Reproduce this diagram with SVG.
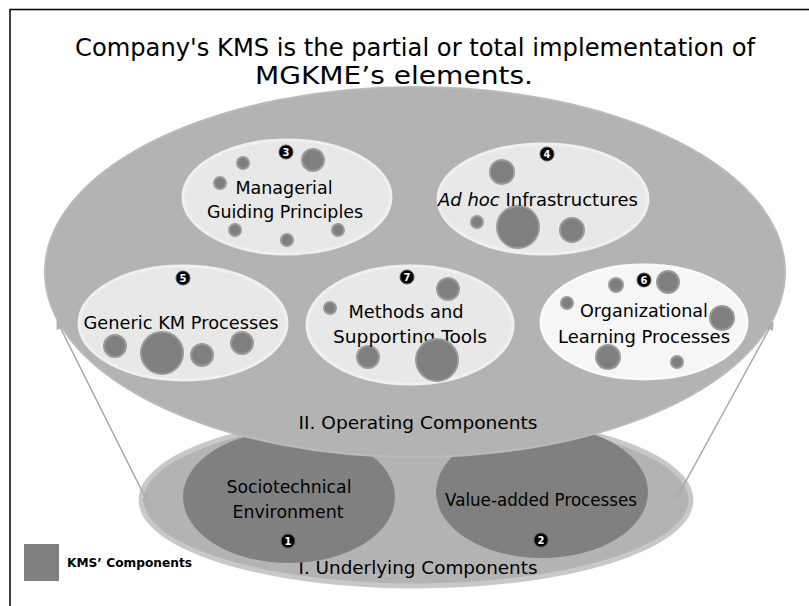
<svg xmlns="http://www.w3.org/2000/svg" width="809" height="606" viewBox="0 0 809 606">
<style>
  text { font-family: "DejaVu Sans", Verdana, sans-serif; fill: #000; }
  .title { font-size: 24.5px; }
  .lbl { font-size: 17.5px; }
  .big { font-size: 18.5px; }
  .leg { font-size: 12.5px; font-weight: bold; }
  .inner { fill: #e8e8e8; stroke: #f0f0f0; stroke-width: 3; }
  .dot { fill: #7f7f7f; stroke: #9a9a9a; stroke-width: 2; }
  .badge { fill: #000; stroke: #555; stroke-width: 1; }
  .bnum { font-size: 10px; font-weight: bold; fill: #fff; text-anchor: middle; }
  .conn { stroke: #a8a8a8; stroke-width: 1.5; fill: none; marker-start: url(#ah); marker-end: url(#ah); }
</style>
<defs>
  <marker id="ah" viewBox="0 0 10 10" refX="9" refY="5" markerWidth="9" markerHeight="9" markerUnits="userSpaceOnUse" orient="auto-start-reverse">
    <path d="M0,0 L10,5 L0,10 z" fill="#b0b0b0"/>
  </marker>
</defs>
<rect width="809" height="606" fill="#fff"/>
<g id="frame">
  <path d="M10,606 L10,9.5 L809,9.5" fill="none" stroke="#000" stroke-width="1.5"/>
</g>
<g id="title">
  <text class="title" x="415" y="56" text-anchor="middle" textLength="680" lengthAdjust="spacingAndGlyphs">Company's KMS is the partial or total implementation of</text>
  <text class="title" x="394" y="84" text-anchor="middle" textLength="278" lengthAdjust="spacingAndGlyphs">MGKME’s elements.</text>
</g>
<g id="underlying">
  <ellipse cx="416" cy="500" rx="275" ry="86" fill="#b3b3b3" stroke="#c8c8c8" stroke-width="5"/>
  <text class="big" x="418" y="574" text-anchor="middle" textLength="239" lengthAdjust="spacingAndGlyphs">I. Underlying Components</text>
</g>
<g id="node1">
  <ellipse cx="289" cy="497" rx="106" ry="66" fill="#808080"/>
  <text class="lbl" x="289" y="493" text-anchor="middle" textLength="125" lengthAdjust="spacingAndGlyphs">Sociotechnical</text>
  <text class="lbl" x="288" y="518" text-anchor="middle" textLength="111" lengthAdjust="spacingAndGlyphs">Environment</text>
  <circle class="badge" cx="288" cy="541" r="7"/>
  <text class="bnum" x="288" y="545">1</text>
</g>
<g id="node2">
  <ellipse cx="542" cy="492" rx="106" ry="66" fill="#808080"/>
  <text class="lbl" x="541" y="506" text-anchor="middle" textLength="192" lengthAdjust="spacingAndGlyphs">Value-added Processes</text>
  <circle class="badge" cx="541" cy="540" r="7"/>
  <text class="bnum" x="541" y="544">2</text>
</g>
<g id="operating">
  <ellipse cx="415" cy="272" rx="370" ry="185" fill="#b3b3b3" stroke="#bababa" stroke-width="2"/>
  <text class="big" x="418" y="429" text-anchor="middle" textLength="239" lengthAdjust="spacingAndGlyphs">II. Operating Components</text>
</g>
<g id="node3">
  <ellipse class="inner" cx="287" cy="197" rx="104" ry="57"/>
  <circle class="dot" cx="243" cy="163" r="6"/>
  <circle class="dot" cx="313" cy="160" r="11"/>
  <circle class="dot" cx="220" cy="183" r="6"/>
  <circle class="dot" cx="235" cy="230" r="6"/>
  <circle class="dot" cx="287" cy="240" r="6"/>
  <circle class="dot" cx="338" cy="230" r="6"/>
  <text class="lbl" x="284" y="194" text-anchor="middle" textLength="97" lengthAdjust="spacingAndGlyphs">Managerial</text>
  <text class="lbl" x="285" y="218" text-anchor="middle" textLength="156" lengthAdjust="spacingAndGlyphs">Guiding Principles</text>
  <circle class="badge" cx="286" cy="152" r="7"/>
  <text class="bnum" x="286" y="156">3</text>
</g>
<g id="node4">
  <ellipse class="inner" cx="543" cy="199" rx="105" ry="55"/>
  <circle class="dot" cx="502" cy="172" r="12"/>
  <circle class="dot" cx="477" cy="222" r="6"/>
  <circle class="dot" cx="518" cy="227" r="21"/>
  <circle class="dot" cx="572" cy="230" r="12"/>
  <text class="lbl" x="438" y="206" textLength="200" lengthAdjust="spacingAndGlyphs"><tspan font-style="italic">Ad hoc</tspan> Infrastructures</text>
  <circle class="badge" cx="547" cy="154" r="7"/>
  <text class="bnum" x="547" y="158">4</text>
</g>
<g id="node5">
  <ellipse class="inner" cx="183" cy="323" rx="104" ry="57"/>
  <circle class="dot" cx="115" cy="346" r="11"/>
  <circle class="dot" cx="162" cy="353" r="21"/>
  <circle class="dot" cx="202" cy="355" r="11"/>
  <circle class="dot" cx="242" cy="343" r="11"/>
  <text class="lbl" x="181" y="329" text-anchor="middle" textLength="195" lengthAdjust="spacingAndGlyphs">Generic KM Processes</text>
  <circle class="badge" cx="183" cy="278" r="7"/>
  <text class="bnum" x="183" y="282">5</text>
</g>
<g id="node7">
  <ellipse class="inner" cx="410" cy="325" rx="103" ry="59"/>
  <circle class="dot" cx="448" cy="289" r="11"/>
  <circle class="dot" cx="330" cy="308" r="6"/>
  <circle class="dot" cx="368" cy="357" r="11"/>
  <text class="lbl" x="406" y="318" text-anchor="middle" textLength="115" lengthAdjust="spacingAndGlyphs">Methods and</text>
  <text class="lbl" x="410" y="343" text-anchor="middle" textLength="154" lengthAdjust="spacingAndGlyphs">Supporting Tools</text>
  <circle class="dot" cx="437" cy="360" r="21"/>
  <circle class="badge" cx="407" cy="277" r="7"/>
  <text class="bnum" x="407" y="281">7</text>
</g>
<g id="node6">
  <ellipse cx="644" cy="322" rx="103" ry="57" fill="#f6f6f6" stroke="#fafafa" stroke-width="3"/>
  <circle class="dot" cx="616" cy="285" r="7"/>
  <circle class="dot" cx="668" cy="282" r="11"/>
  <circle class="dot" cx="567" cy="303" r="6"/>
  <circle class="dot" cx="722" cy="318" r="12"/>
  <circle class="dot" cx="608" cy="357" r="12"/>
  <circle class="dot" cx="677" cy="362" r="6"/>
  <text class="lbl" x="644" y="317" text-anchor="middle" textLength="128" lengthAdjust="spacingAndGlyphs">Organizational</text>
  <text class="lbl" x="644" y="343" text-anchor="middle" textLength="172" lengthAdjust="spacingAndGlyphs">Learning Processes</text>
  <circle class="badge" cx="644" cy="280" r="7"/>
  <text class="bnum" x="644" y="284">6</text>
</g>
<g id="connectors">
  <line class="conn" x1="57" y1="321" x2="149" y2="505"/>
  <line class="conn" x1="773" y1="322" x2="675" y2="501"/>
</g>
<g id="legend">
  <rect x="24" y="544" width="35" height="37" fill="#808080"/>
  <text class="leg" x="67" y="567" textLength="125" lengthAdjust="spacingAndGlyphs">KMS’ Components</text>
</g>
</svg>
